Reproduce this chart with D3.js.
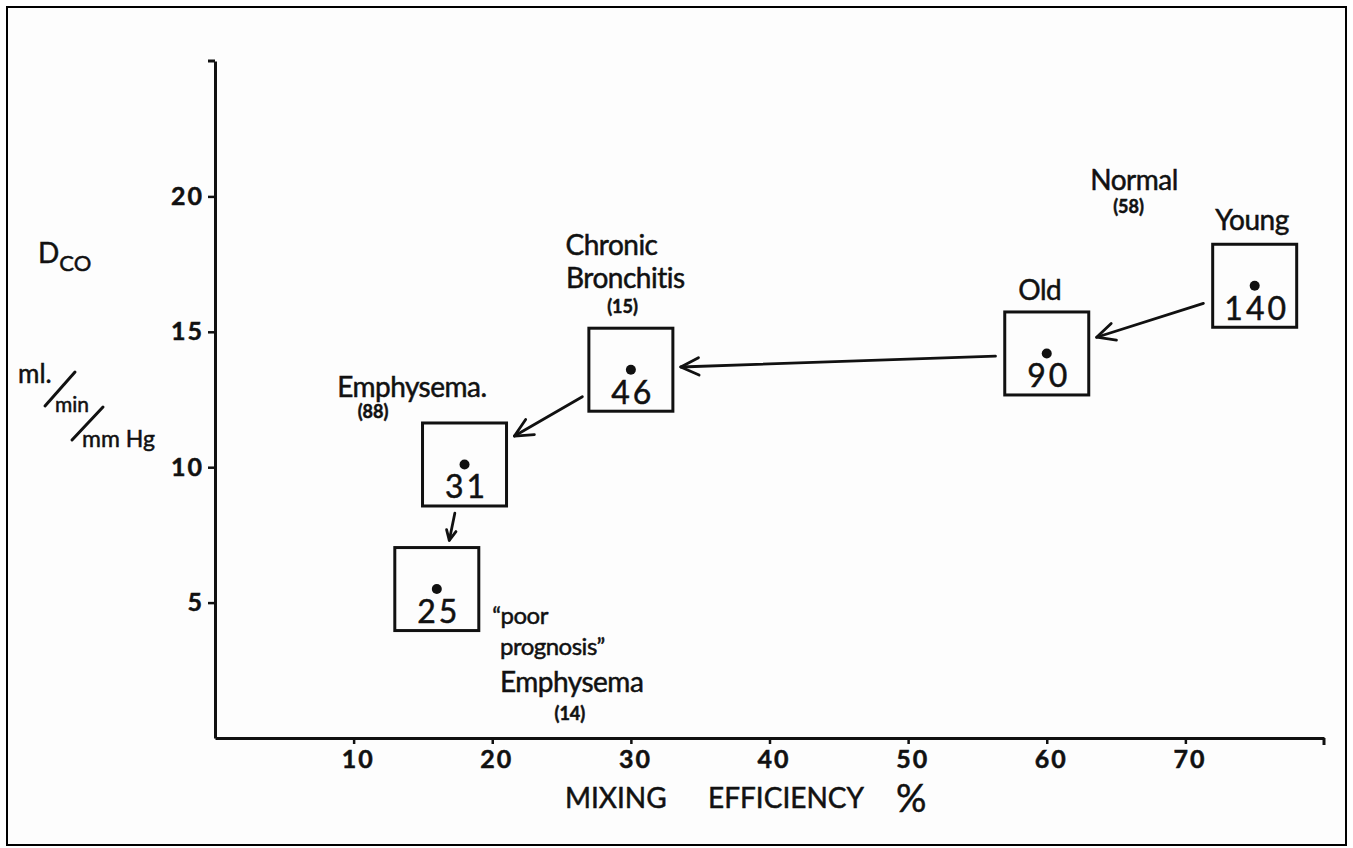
<!DOCTYPE html>
<html>
<head>
<meta charset="utf-8">
<script src="https://cdn.jsdelivr.net/npm/d3@7"></script>
<style>
  body { margin: 0; background: #fff; }
  svg text { font-family: Lato, "Noto Sans", sans-serif; fill: #111; stroke: #111; stroke-width: 0.5px; }
</style>
</head>
<body>
<svg id="chart" width="1353" height="848"></svg>
<script>
// values
var groups = ["Young", "Old", "Chronic Bronchitis", "Emphysema", "Poor prognosis Emphysema"];
var mixing = [75, 60, 30, 18, 16];          // mixing efficiency %
var dco = [16.7, 14.2, 13.6, 10.1, 5.5];    // Dco ml/min/mm Hg
var counts = [140, 90, 46, 31, 25];

var xTicks = [10, 20, 30, 40, 50, 60, 70];
var yTicks = [5, 10, 15, 20];

// arrows between groups, in data units [x, y]
var arrowFrom = [[71.3, 16.05], [56.3, 14.1], [26.5, 12.6], [17.3, 8.3]];
var arrowTo   = [[63.6, 14.8], [33.6, 13.7], [21.6, 11.15], [16.9, 7.3]];

// annotation texts, anchored in data units
var annoText = ["Normal", "(58)", "Young", "Old", "Chronic", "Bronchitis", "(15)",
                "Emphysema.", "(88)", "\u201Cpoor", "prognosis\u201D", "Emphysema", "(14)"];
var annoX = [66.3, 65.9, 74.8, 59.5, 28.6, 29.6, 29.4, 14.2, 11.4, 20.0, 20.56, 20.56, 25.6];
var annoY = [20.24, 19.39, 18.76, 16.17, 17.84, 16.62, 15.68, 12.59, 11.8, 4.21, 3.07, 1.70, 0.66];
var annoSmall = [false, true, false, false, false, false, true, false, true, false, false, false, true];
var annoStart = [false, false, false, false, false, false, false, false, false, true, true, true, false];

var svg = d3.select("#chart");

var x = d3.scaleLinear().domain([0, 80]).range([215, 1324]);
var y = d3.scaleLinear().domain([0, 25]).range([738, 61]);

// frame
svg.append("rect")
    .attr("x", 7).attr("y", 7)
    .attr("width", 1339).attr("height", 838)
    .attr("fill", "#fdfdfd")
    .attr("stroke", "#000")
    .attr("stroke-width", 2);

// axes
var xAxis = d3.axisBottom(x).tickValues(xTicks).tickSize(6).tickSizeOuter(0).tickPadding(6);
var yAxis = d3.axisLeft(y).tickValues(yTicks).tickSize(7).tickSizeOuter(0).tickPadding(4);

var gx = svg.append("g").attr("transform", "translate(0," + y(0) + ")").call(xAxis);
var gy = svg.append("g").attr("transform", "translate(" + x(0) + ",0)").call(yAxis);

[gx, gy].forEach(function(g) {
    g.select(".domain").attr("stroke", "#111").attr("stroke-width", 3);
    g.selectAll(".tick line").attr("stroke", "#111").attr("stroke-width", 2.5);
    g.selectAll(".tick text")
        .attr("fill", "#111")
        .style("font-family", "Lato, sans-serif")
        .style("font-size", "25px")
        .style("font-weight", "700")
        .style("letter-spacing", "2px");
});
gx.selectAll(".tick text").attr("dx", "4");

// end serifs on the axes
svg.append("line")
    .attr("x1", x(0) - 7).attr("x2", x(0))
    .attr("y1", y(25)).attr("y2", y(25))
    .attr("stroke", "#111").attr("stroke-width", 3);
svg.append("line")
    .attr("x1", x(80)).attr("x2", x(80))
    .attr("y1", y(0)).attr("y2", y(0) + 7)
    .attr("stroke", "#111").attr("stroke-width", 3);

// axis titles
var xt = svg.append("text")
    .attr("x", 565).attr("y", 808)
    .style("font-size", "28px");
xt.append("tspan").text("MIXING");
xt.append("tspan").attr("x", 708).text("EFFICIENCY");
xt.append("tspan").attr("x", 896).style("font-size", "38px").attr("dy", 4).text("%");

var yt = svg.append("text").attr("x", 38).attr("y", 263).style("font-size", "28px");
yt.append("tspan").text("D");
yt.append("tspan").attr("dy", 8).style("font-size", "22px").text("CO");

svg.append("text").attr("x", 18).attr("y", 383).style("font-size", "26px").text("ml.");
svg.append("line").attr("x1", 45).attr("y1", 406).attr("x2", 75).attr("y2", 372)
    .attr("stroke", "#111").attr("stroke-width", 3).attr("stroke-linecap", "round");
svg.append("text").attr("x", 55).attr("y", 412).style("font-size", "21px").text("min");
svg.append("line").attr("x1", 72).attr("y1", 440).attr("x2", 103).attr("y2", 407)
    .attr("stroke", "#111").attr("stroke-width", 3).attr("stroke-linecap", "round");
svg.append("text").attr("x", 82).attr("y", 447).style("font-size", "23px").text("mm Hg");

// boxes with means
var boxW = 84, boxH = 83;
var idx = d3.range(groups.length);

var cell = svg.append("g").selectAll("g")
    .data(idx)
    .enter().append("g")
    .attr("transform", function(i) { return "translate(" + x(mixing[i]) + "," + y(dco[i]) + ")"; });

cell.append("rect")
    .attr("x", -boxW / 2).attr("y", -boxH / 2)
    .attr("width", boxW).attr("height", boxH)
    .attr("fill", "none")
    .attr("stroke", "#111")
    .attr("stroke-width", 3);

cell.append("circle")
    .attr("r", 5)
    .attr("fill", "#111");

cell.append("text")
    .attr("y", 34)
    .attr("x", 2)
    .attr("text-anchor", "middle")
    .style("font-size", "32px")
    .style("letter-spacing", "3px")
    .text(function(i) { return counts[i]; });

// arrows
function drawArrow(p, q, len) {
    var x1 = x(p[0]), y1 = y(p[1]), x2 = x(q[0]), y2 = y(q[1]);
    var a = Math.atan2(y2 - y1, x2 - x1);
    var spread = 0.45;
    svg.append("line")
        .attr("x1", x1).attr("y1", y1).attr("x2", x2).attr("y2", y2)
        .attr("stroke", "#111").attr("stroke-width", 2.8).attr("stroke-linecap", "round");
    svg.append("path")
        .attr("d", "M" + (x2 - len * Math.cos(a - spread)) + "," + (y2 - len * Math.sin(a - spread)) +
                   "L" + x2 + "," + y2 +
                   "L" + (x2 - len * Math.cos(a + spread)) + "," + (y2 - len * Math.sin(a + spread)))
        .attr("fill", "none")
        .attr("stroke", "#111").attr("stroke-width", 2.8)
        .attr("stroke-linecap", "round").attr("stroke-linejoin", "round");
}

for (var i = 0; i < arrowFrom.length; i++) {
    drawArrow(arrowFrom[i], arrowTo[i], i == 3 ? 11 : 20);
}

// annotations
svg.append("g").selectAll("text")
    .data(d3.range(annoText.length))
    .enter().append("text")
    .attr("x", function(i) { return x(annoX[i]); })
    .attr("y", function(i) { return y(annoY[i]); })
    .attr("text-anchor", function(i) { return annoStart[i] ? "start" : "middle"; })
    .style("font-size", function(i) { return annoSmall[i] ? "18px" : (annoStart[i] && i < 11 ? "24px" : "28px"); })
    .style("font-weight", function(i) { return annoSmall[i] ? "700" : "400"; })
    .style("letter-spacing", function(i) { return annoSmall[i] ? "0px" : "-0.5px"; })
    .text(function(i) { return annoText[i]; });
</script>
</body>
</html>
